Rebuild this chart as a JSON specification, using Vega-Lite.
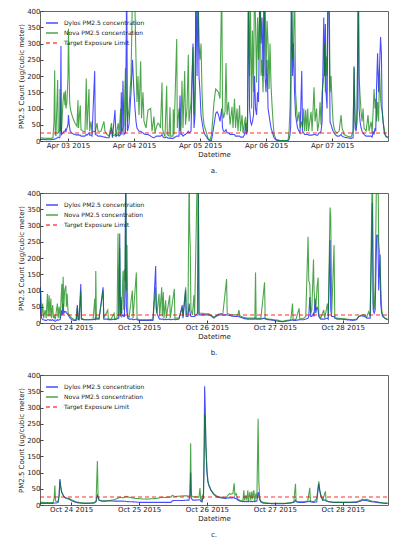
{
"$schema": "https://vega.github.io/schema/vega-lite/v6.json",
"background": "white",
"padding": {"left": 17, "top": 6, "right": 5, "bottom": 2},
"spacing": 13,
"config": {
  "font": "DejaVu Sans",
  "view": {"stroke": "#666", "strokeWidth": 1},
  "axis": {"grid": false, "domain": false, "tickColor": "#444", "tickSize": -3, "labelPadding": 3, "labelFontSize": 7, "titleFontSize": 7, "labelColor": "#222", "titleColor": "#222", "titleFontWeight": "normal", "titlePadding": 2, "labelOverlap": false, "labelBound": false},
  "axisX": {"labelFlush": false},
  "legend": {"orient": "top-left", "offset": 5, "padding": 0, "labelFontSize": 6, "symbolType": "stroke", "symbolSize": 144, "symbolStrokeWidth": 1.5, "rowPadding": -2, "labelOffset": 5, "labelColor": "#222"},
  "title": {"fontSize": 7, "fontWeight": "normal", "orient": "bottom", "offset": 10, "frame": "group", "color": "#222"}
},
"datasets": {
"a": [
{"t":"2015-04-02T13:49","d":5,"n":10},{"t":"2015-04-02T14:55","d":5,"n":9},{"t":"2015-04-02T16:22","d":4,"n":8},{"t":"2015-04-02T17:49","d":4,"n":8},{"t":"2015-04-02T18:33","d":5,"n":10},{"t":"2015-04-02T18:55","d":5,"n":60},{"t":"2015-04-02T19:10","d":6,"n":218},{"t":"2015-04-02T19:23","d":6,"n":20},{"t":"2015-04-02T19:38","d":8,"n":15},{"t":"2015-04-02T20:15","d":10,"n":188},{"t":"2015-04-02T20:28","d":12,"n":25},{"t":"2015-04-02T20:55","d":10,"n":30},{"t":"2015-04-02T21:05","d":12,"n":160},{"t":"2015-04-02T21:16","d":60,"n":30},{"t":"2015-04-02T21:27","d":292,"n":40},{"t":"2015-04-02T21:38","d":20,"n":25},{"t":"2015-04-02T22:11","d":25,"n":120},{"t":"2015-04-02T22:33","d":30,"n":150},{"t":"2015-04-02T22:55","d":30,"n":110},{"t":"2015-04-02T23:05","d":35,"n":155},{"t":"2015-04-02T23:16","d":30,"n":100},{"t":"2015-04-02T23:38","d":40,"n":120},{"t":"2015-04-03T00:00","d":50,"n":200},{"t":"2015-04-03T00:11","d":80,"n":345},{"t":"2015-04-03T00:22","d":60,"n":240},{"t":"2015-04-03T00:37","d":40,"n":120},{"t":"2015-04-03T00:50","d":30,"n":100},{"t":"2015-04-03T01:16","d":25,"n":85},{"t":"2015-04-03T01:49","d":22,"n":70},{"t":"2015-04-03T02:33","d":20,"n":55},{"t":"2015-04-03T03:16","d":18,"n":45},{"t":"2015-04-03T03:38","d":20,"n":125},{"t":"2015-04-03T03:49","d":18,"n":40},{"t":"2015-04-03T04:28","d":18,"n":110},{"t":"2015-04-03T04:44","d":15,"n":35},{"t":"2015-04-03T05:27","d":15,"n":30},{"t":"2015-04-03T06:11","d":15,"n":28},{"t":"2015-04-03T06:39","d":20,"n":192},{"t":"2015-04-03T06:55","d":18,"n":35},{"t":"2015-04-03T07:38","d":25,"n":160},{"t":"2015-04-03T07:53","d":18,"n":30},{"t":"2015-04-03T08:22","d":18,"n":60},{"t":"2015-04-03T08:44","d":15,"n":28},{"t":"2015-04-03T09:43","d":215,"n":30},{"t":"2015-04-03T09:56","d":20,"n":28},{"t":"2015-04-03T10:33","d":18,"n":55},{"t":"2015-04-03T10:55","d":15,"n":30},{"t":"2015-04-03T12:00","d":15,"n":30},{"t":"2015-04-03T13:05","d":12,"n":60},{"t":"2015-04-03T13:27","d":12,"n":30},{"t":"2015-04-03T14:11","d":10,"n":20},{"t":"2015-04-03T14:55","d":10,"n":15},{"t":"2015-04-03T15:49","d":40,"n":55},{"t":"2015-04-03T16:11","d":10,"n":15},{"t":"2015-04-03T17:05","d":95,"n":20},{"t":"2015-04-03T17:27","d":15,"n":15},{"t":"2015-04-03T18:17","d":20,"n":55},{"t":"2015-04-03T18:33","d":15,"n":18},{"t":"2015-04-03T19:10","d":20,"n":100},{"t":"2015-04-03T19:23","d":150,"n":30},{"t":"2015-04-03T19:38","d":20,"n":30},{"t":"2015-04-03T20:00","d":185,"n":40},{"t":"2015-04-03T20:22","d":20,"n":50},{"t":"2015-04-03T20:55","d":25,"n":225},{"t":"2015-04-03T21:21","d":500,"n":100},{"t":"2015-04-03T21:38","d":30,"n":60},{"t":"2015-04-03T22:11","d":50,"n":100},{"t":"2015-04-03T22:55","d":150,"n":200},{"t":"2015-04-03T23:27","d":250,"n":450},{"t":"2015-04-04T00:00","d":150,"n":500},{"t":"2015-04-04T00:22","d":100,"n":400},{"t":"2015-04-04T00:44","d":60,"n":250},{"t":"2015-04-04T01:05","d":40,"n":120},{"t":"2015-04-04T01:27","d":35,"n":200},{"t":"2015-04-04T01:49","d":30,"n":80},{"t":"2015-04-04T02:26","d":30,"n":245},{"t":"2015-04-04T02:44","d":28,"n":70},{"t":"2015-04-04T03:16","d":25,"n":150},{"t":"2015-04-04T03:38","d":22,"n":60},{"t":"2015-04-04T04:22","d":20,"n":40},{"t":"2015-04-04T05:05","d":20,"n":95},{"t":"2015-04-04T06:04","d":15,"n":100},{"t":"2015-04-04T06:33","d":12,"n":30},{"t":"2015-04-04T07:16","d":10,"n":75},{"t":"2015-04-04T07:38","d":12,"n":25},{"t":"2015-04-04T08:11","d":15,"n":45},{"t":"2015-04-04T08:44","d":15,"n":55},{"t":"2015-04-04T09:16","d":15,"n":50},{"t":"2015-04-04T09:38","d":15,"n":40},{"t":"2015-04-04T10:11","d":20,"n":180},{"t":"2015-04-04T10:26","d":15,"n":35},{"t":"2015-04-04T10:55","d":10,"n":20},{"t":"2015-04-04T11:16","d":10,"n":15},{"t":"2015-04-04T11:53","d":12,"n":170},{"t":"2015-04-04T12:07","d":10,"n":20},{"t":"2015-04-04T12:44","d":8,"n":15},{"t":"2015-04-04T13:05","d":10,"n":104},{"t":"2015-04-04T13:21","d":8,"n":15},{"t":"2015-04-04T14:11","d":8,"n":15},{"t":"2015-04-04T14:17","d":8,"n":98},{"t":"2015-04-04T14:33","d":10,"n":20},{"t":"2015-04-04T15:32","d":15,"n":314},{"t":"2015-04-04T15:45","d":15,"n":40},{"t":"2015-04-04T16:22","d":15,"n":100},{"t":"2015-04-04T16:44","d":140,"n":30},{"t":"2015-04-04T17:05","d":20,"n":50},{"t":"2015-04-04T17:27","d":20,"n":185},{"t":"2015-04-04T17:49","d":15,"n":40},{"t":"2015-04-04T18:26","d":20,"n":215},{"t":"2015-04-04T18:44","d":20,"n":50},{"t":"2015-04-04T19:16","d":25,"n":100},{"t":"2015-04-04T19:45","d":30,"n":265},{"t":"2015-04-04T20:00","d":25,"n":60},{"t":"2015-04-04T20:44","d":30,"n":120},{"t":"2015-04-04T21:27","d":300,"n":290},{"t":"2015-04-04T21:49","d":40,"n":80},{"t":"2015-04-04T22:11","d":80,"n":150},{"t":"2015-04-04T22:33","d":500,"n":500},{"t":"2015-04-04T22:55","d":200,"n":400},{"t":"2015-04-04T23:16","d":500,"n":500},{"t":"2015-04-04T23:38","d":200,"n":300},{"t":"2015-04-05T00:00","d":150,"n":250},{"t":"2015-04-05T00:22","d":80,"n":300},{"t":"2015-04-05T00:44","d":60,"n":150},{"t":"2015-04-05T01:05","d":40,"n":80},{"t":"2015-04-05T01:27","d":25,"n":50},{"t":"2015-04-05T02:11","d":15,"n":30},{"t":"2015-04-05T02:55","d":5,"n":8},{"t":"2015-04-05T03:38","d":0,"n":2},{"t":"2015-04-05T04:11","d":2,"n":20},{"t":"2015-04-05T04:33","d":20,"n":60},{"t":"2015-04-05T05:05","d":50,"n":120},{"t":"2015-04-05T05:43","d":85,"n":160},{"t":"2015-04-05T06:11","d":90,"n":155},{"t":"2015-04-05T06:44","d":80,"n":150},{"t":"2015-04-05T07:16","d":60,"n":130},{"t":"2015-04-05T07:53","d":100,"n":500},{"t":"2015-04-05T08:11","d":40,"n":100},{"t":"2015-04-05T08:33","d":30,"n":70},{"t":"2015-04-05T09:05","d":30,"n":90},{"t":"2015-04-05T09:27","d":35,"n":240},{"t":"2015-04-05T09:49","d":25,"n":80},{"t":"2015-04-05T10:22","d":25,"n":120},{"t":"2015-04-05T10:55","d":20,"n":50},{"t":"2015-04-05T11:38","d":20,"n":105},{"t":"2015-04-05T12:00","d":20,"n":40},{"t":"2015-04-05T12:33","d":20,"n":130},{"t":"2015-04-05T12:55","d":15,"n":40},{"t":"2015-04-05T13:27","d":15,"n":100},{"t":"2015-04-05T13:49","d":15,"n":30},{"t":"2015-04-05T14:22","d":15,"n":110},{"t":"2015-04-05T14:44","d":12,"n":30},{"t":"2015-04-05T15:16","d":12,"n":80},{"t":"2015-04-05T15:38","d":12,"n":25},{"t":"2015-04-05T16:15","d":20,"n":60},{"t":"2015-04-05T16:33","d":55,"n":75},{"t":"2015-04-05T16:55","d":20,"n":30},{"t":"2015-04-05T17:16","d":30,"n":70},{"t":"2015-04-05T17:38","d":500,"n":500},{"t":"2015-04-05T18:00","d":100,"n":200},{"t":"2015-04-05T18:22","d":60,"n":400},{"t":"2015-04-05T18:44","d":50,"n":100},{"t":"2015-04-05T19:05","d":60,"n":340},{"t":"2015-04-05T19:27","d":80,"n":150},{"t":"2015-04-05T19:49","d":200,"n":500},{"t":"2015-04-05T20:11","d":100,"n":360},{"t":"2015-04-05T20:33","d":80,"n":180},{"t":"2015-04-05T20:55","d":150,"n":380},{"t":"2015-04-05T21:16","d":120,"n":250},{"t":"2015-04-05T21:49","d":500,"n":500},{"t":"2015-04-05T22:11","d":300,"n":200},{"t":"2015-04-05T22:33","d":380,"n":250},{"t":"2015-04-05T22:55","d":200,"n":150},{"t":"2015-04-05T23:16","d":500,"n":300},{"t":"2015-04-05T23:38","d":200,"n":500},{"t":"2015-04-06T00:00","d":150,"n":200},{"t":"2015-04-06T00:22","d":250,"n":370},{"t":"2015-04-06T00:44","d":100,"n":300},{"t":"2015-04-06T01:05","d":80,"n":160},{"t":"2015-04-06T01:27","d":60,"n":300},{"t":"2015-04-06T01:49","d":40,"n":170},{"t":"2015-04-06T02:11","d":30,"n":110},{"t":"2015-04-06T02:33","d":20,"n":60},{"t":"2015-04-06T02:55","d":10,"n":20},{"t":"2015-04-06T03:38","d":3,"n":5},{"t":"2015-04-06T04:44","d":1,"n":2},{"t":"2015-04-06T06:33","d":1,"n":1},{"t":"2015-04-06T08:00","d":1,"n":2},{"t":"2015-04-06T08:22","d":5,"n":30},{"t":"2015-04-06T08:44","d":20,"n":104},{"t":"2015-04-06T08:59","d":50,"n":200},{"t":"2015-04-06T09:16","d":500,"n":500},{"t":"2015-04-06T09:38","d":200,"n":250},{"t":"2015-04-06T10:00","d":300,"n":300},{"t":"2015-04-06T10:22","d":150,"n":500},{"t":"2015-04-06T10:44","d":80,"n":150},{"t":"2015-04-06T11:05","d":60,"n":100},{"t":"2015-04-06T11:27","d":40,"n":60},{"t":"2015-04-06T12:00","d":30,"n":90},{"t":"2015-04-06T12:22","d":25,"n":40},{"t":"2015-04-06T12:59","d":215,"n":60},{"t":"2015-04-06T13:16","d":30,"n":40},{"t":"2015-04-06T13:43","d":25,"n":100},{"t":"2015-04-06T14:00","d":20,"n":30},{"t":"2015-04-06T14:26","d":20,"n":95},{"t":"2015-04-06T14:44","d":20,"n":30},{"t":"2015-04-06T15:10","d":20,"n":100},{"t":"2015-04-06T15:27","d":18,"n":30},{"t":"2015-04-06T16:22","d":18,"n":90},{"t":"2015-04-06T16:44","d":18,"n":30},{"t":"2015-04-06T17:27","d":20,"n":165},{"t":"2015-04-06T17:49","d":20,"n":60},{"t":"2015-04-06T18:22","d":18,"n":100},{"t":"2015-04-06T18:44","d":18,"n":30},{"t":"2015-04-06T19:16","d":25,"n":60},{"t":"2015-04-06T19:38","d":25,"n":120},{"t":"2015-04-06T20:00","d":30,"n":50},{"t":"2015-04-06T20:22","d":60,"n":150},{"t":"2015-04-06T20:59","d":380,"n":200},{"t":"2015-04-06T21:16","d":200,"n":300},{"t":"2015-04-06T21:34","d":360,"n":150},{"t":"2015-04-06T21:49","d":150,"n":260},{"t":"2015-04-06T22:11","d":100,"n":200},{"t":"2015-04-06T22:33","d":500,"n":500},{"t":"2015-04-06T22:55","d":400,"n":500},{"t":"2015-04-06T23:16","d":60,"n":150},{"t":"2015-04-06T23:38","d":50,"n":200},{"t":"2015-04-07T00:00","d":40,"n":120},{"t":"2015-04-07T00:22","d":30,"n":60},{"t":"2015-04-07T00:44","d":25,"n":40},{"t":"2015-04-07T01:05","d":20,"n":30},{"t":"2015-04-07T01:49","d":15,"n":25},{"t":"2015-04-07T02:33","d":15,"n":30},{"t":"2015-04-07T03:16","d":20,"n":80},{"t":"2015-04-07T03:38","d":15,"n":40},{"t":"2015-04-07T04:22","d":12,"n":20},{"t":"2015-04-07T05:27","d":10,"n":15},{"t":"2015-04-07T06:55","d":8,"n":12},{"t":"2015-04-07T07:38","d":10,"n":30},{"t":"2015-04-07T08:00","d":230,"n":225},{"t":"2015-04-07T08:22","d":40,"n":60},{"t":"2015-04-07T08:44","d":30,"n":40},{"t":"2015-04-07T09:05","d":60,"n":100},{"t":"2015-04-07T09:34","d":500,"n":500},{"t":"2015-04-07T09:49","d":100,"n":200},{"t":"2015-04-07T10:11","d":60,"n":140},{"t":"2015-04-07T10:33","d":40,"n":90},{"t":"2015-04-07T10:55","d":30,"n":60},{"t":"2015-04-07T11:16","d":25,"n":100},{"t":"2015-04-07T11:38","d":20,"n":40},{"t":"2015-04-07T12:22","d":15,"n":30},{"t":"2015-04-07T13:05","d":15,"n":80},{"t":"2015-04-07T13:27","d":15,"n":30},{"t":"2015-04-07T14:11","d":15,"n":60},{"t":"2015-04-07T14:33","d":12,"n":25},{"t":"2015-04-07T14:55","d":30,"n":90},{"t":"2015-04-07T15:16","d":20,"n":160},{"t":"2015-04-07T15:38","d":40,"n":100},{"t":"2015-04-07T15:53","d":30,"n":130},{"t":"2015-04-07T16:11","d":170,"n":60},{"t":"2015-04-07T16:33","d":270,"n":120},{"t":"2015-04-07T16:55","d":150,"n":60},{"t":"2015-04-07T17:16","d":230,"n":220},{"t":"2015-04-07T17:38","d":320,"n":130},{"t":"2015-04-07T17:56","d":270,"n":100},{"t":"2015-04-07T18:11","d":100,"n":95},{"t":"2015-04-07T18:33","d":60,"n":60},{"t":"2015-04-07T18:55","d":30,"n":40},{"t":"2015-04-07T19:16","d":20,"n":20},{"t":"2015-04-07T19:38","d":15,"n":12},{"t":"2015-04-07T20:22","d":12,"n":10}
],
"b": [
{"t":"2015-10-23T13:04","d":110,"n":100},{"t":"2015-10-23T13:18","d":30,"n":95},{"t":"2015-10-23T13:35","d":15,"n":20},{"t":"2015-10-23T13:56","d":10,"n":60},{"t":"2015-10-23T14:18","d":10,"n":15},{"t":"2015-10-23T14:49","d":8,"n":40},{"t":"2015-10-23T15:11","d":8,"n":15},{"t":"2015-10-23T15:38","d":10,"n":90},{"t":"2015-10-23T15:53","d":10,"n":20},{"t":"2015-10-23T16:14","d":10,"n":85},{"t":"2015-10-23T16:29","d":8,"n":20},{"t":"2015-10-23T16:50","d":10,"n":75},{"t":"2015-10-23T17:03","d":8,"n":15},{"t":"2015-10-23T17:28","d":10,"n":55},{"t":"2015-10-23T17:45","d":8,"n":15},{"t":"2015-10-23T18:00","d":8,"n":25},{"t":"2015-10-23T18:21","d":5,"n":10},{"t":"2015-10-23T19:10","d":10,"n":60},{"t":"2015-10-23T19:25","d":8,"n":15},{"t":"2015-10-23T19:46","d":10,"n":50},{"t":"2015-10-23T20:07","d":10,"n":15},{"t":"2015-10-23T20:43","d":40,"n":120},{"t":"2015-10-23T20:56","d":25,"n":40},{"t":"2015-10-23T21:11","d":60,"n":142},{"t":"2015-10-23T21:25","d":30,"n":50},{"t":"2015-10-23T21:43","d":35,"n":100},{"t":"2015-10-23T22:08","d":35,"n":115},{"t":"2015-10-23T22:20","d":30,"n":50},{"t":"2015-10-23T22:35","d":30,"n":90},{"t":"2015-10-23T22:56","d":25,"n":30},{"t":"2015-10-23T23:39","d":15,"n":20},{"t":"2015-10-24T00:21","d":10,"n":15},{"t":"2015-10-24T01:04","d":8,"n":10},{"t":"2015-10-24T01:46","d":8,"n":10},{"t":"2015-10-24T02:13","d":55,"n":50},{"t":"2015-10-24T02:28","d":10,"n":12},{"t":"2015-10-24T02:49","d":10,"n":10},{"t":"2015-10-24T03:25","d":120,"n":100},{"t":"2015-10-24T03:38","d":12,"n":15},{"t":"2015-10-24T04:35","d":10,"n":10},{"t":"2015-10-24T06:21","d":10,"n":10},{"t":"2015-10-24T07:46","d":10,"n":12},{"t":"2015-10-24T08:22","d":12,"n":75},{"t":"2015-10-24T08:35","d":10,"n":12},{"t":"2015-10-24T08:43","d":15,"n":160},{"t":"2015-10-24T08:56","d":12,"n":15},{"t":"2015-10-24T09:53","d":12,"n":15},{"t":"2015-10-24T11:18","d":110,"n":100},{"t":"2015-10-24T11:32","d":12,"n":15},{"t":"2015-10-24T12:57","d":12,"n":40},{"t":"2015-10-24T13:10","d":10,"n":12},{"t":"2015-10-24T14:07","d":10,"n":12},{"t":"2015-10-24T15:11","d":12,"n":30},{"t":"2015-10-24T15:25","d":10,"n":12},{"t":"2015-10-24T16:14","d":12,"n":15},{"t":"2015-10-24T16:35","d":15,"n":275},{"t":"2015-10-24T16:50","d":15,"n":20},{"t":"2015-10-24T17:11","d":275,"n":230},{"t":"2015-10-24T17:24","d":20,"n":25},{"t":"2015-10-24T17:39","d":80,"n":70},{"t":"2015-10-24T17:54","d":20,"n":30},{"t":"2015-10-24T18:21","d":25,"n":160},{"t":"2015-10-24T18:36","d":20,"n":40},{"t":"2015-10-24T18:49","d":20,"n":165},{"t":"2015-10-24T19:04","d":100,"n":130},{"t":"2015-10-24T19:18","d":500,"n":500},{"t":"2015-10-24T19:31","d":50,"n":100},{"t":"2015-10-24T19:46","d":30,"n":240},{"t":"2015-10-24T20:01","d":15,"n":25},{"t":"2015-10-24T20:28","d":12,"n":15},{"t":"2015-10-24T21:38","d":12,"n":100},{"t":"2015-10-24T21:53","d":10,"n":15},{"t":"2015-10-24T23:03","d":12,"n":155},{"t":"2015-10-24T23:18","d":10,"n":15},{"t":"2015-10-25T00:00","d":8,"n":10},{"t":"2015-10-25T01:46","d":8,"n":10},{"t":"2015-10-25T03:32","d":8,"n":10},{"t":"2015-10-25T04:56","d":8,"n":12},{"t":"2015-10-25T05:53","d":175,"n":110},{"t":"2015-10-25T06:06","d":50,"n":40},{"t":"2015-10-25T06:21","d":30,"n":30},{"t":"2015-10-25T07:04","d":15,"n":90},{"t":"2015-10-25T07:18","d":12,"n":20},{"t":"2015-10-25T08:01","d":12,"n":110},{"t":"2015-10-25T08:13","d":12,"n":20},{"t":"2015-10-25T08:35","d":12,"n":95},{"t":"2015-10-25T08:49","d":10,"n":15},{"t":"2015-10-25T09:25","d":12,"n":70},{"t":"2015-10-25T09:38","d":10,"n":15},{"t":"2015-10-25T10:50","d":12,"n":85},{"t":"2015-10-25T11:03","d":10,"n":15},{"t":"2015-10-25T12:28","d":12,"n":105},{"t":"2015-10-25T12:42","d":10,"n":15},{"t":"2015-10-25T14:07","d":12,"n":15},{"t":"2015-10-25T15:17","d":55,"n":45},{"t":"2015-10-25T15:32","d":15,"n":20},{"t":"2015-10-25T16:29","d":100,"n":110},{"t":"2015-10-25T16:41","d":20,"n":25},{"t":"2015-10-25T17:18","d":20,"n":30},{"t":"2015-10-25T17:45","d":60,"n":500},{"t":"2015-10-25T17:53","d":40,"n":295},{"t":"2015-10-25T18:06","d":30,"n":235},{"t":"2015-10-25T18:21","d":20,"n":40},{"t":"2015-10-25T18:53","d":20,"n":25},{"t":"2015-10-25T19:25","d":20,"n":85},{"t":"2015-10-25T19:39","d":20,"n":25},{"t":"2015-10-25T20:39","d":30,"n":500},{"t":"2015-10-25T20:56","d":500,"n":500},{"t":"2015-10-25T21:11","d":25,"n":30},{"t":"2015-10-25T22:14","d":25,"n":30},{"t":"2015-10-25T23:39","d":25,"n":28},{"t":"2015-10-26T00:42","d":25,"n":28},{"t":"2015-10-26T01:46","d":20,"n":22},{"t":"2015-10-26T02:28","d":15,"n":18},{"t":"2015-10-26T03:11","d":20,"n":22},{"t":"2015-10-26T04:14","d":25,"n":28},{"t":"2015-10-26T05:39","d":25,"n":30},{"t":"2015-10-26T06:57","d":25,"n":135},{"t":"2015-10-26T07:10","d":25,"n":30},{"t":"2015-10-26T08:28","d":22,"n":25},{"t":"2015-10-26T09:53","d":20,"n":25},{"t":"2015-10-26T10:56","d":20,"n":25},{"t":"2015-10-26T11:18","d":20,"n":40},{"t":"2015-10-26T11:39","d":18,"n":22},{"t":"2015-10-26T12:42","d":15,"n":18},{"t":"2015-10-26T14:07","d":12,"n":15},{"t":"2015-10-26T15:32","d":12,"n":15},{"t":"2015-10-26T16:56","d":12,"n":15},{"t":"2015-10-26T17:11","d":15,"n":155},{"t":"2015-10-26T17:24","d":12,"n":15},{"t":"2015-10-26T19:04","d":12,"n":14},{"t":"2015-10-26T20:22","d":15,"n":125},{"t":"2015-10-26T20:35","d":12,"n":14},{"t":"2015-10-26T21:53","d":10,"n":12},{"t":"2015-10-26T23:39","d":8,"n":10},{"t":"2015-10-27T01:25","d":5,"n":8},{"t":"2015-10-27T02:49","d":4,"n":5},{"t":"2015-10-27T04:14","d":6,"n":8},{"t":"2015-10-27T05:39","d":8,"n":10},{"t":"2015-10-27T06:15","d":10,"n":60},{"t":"2015-10-27T06:28","d":8,"n":12},{"t":"2015-10-27T07:25","d":8,"n":10},{"t":"2015-10-27T08:35","d":10,"n":45},{"t":"2015-10-27T08:49","d":10,"n":12},{"t":"2015-10-27T10:14","d":10,"n":15},{"t":"2015-10-27T10:56","d":12,"n":20},{"t":"2015-10-27T11:45","d":15,"n":265},{"t":"2015-10-27T12:00","d":20,"n":130},{"t":"2015-10-27T12:21","d":80,"n":120},{"t":"2015-10-27T12:42","d":20,"n":30},{"t":"2015-10-27T13:04","d":20,"n":40},{"t":"2015-10-27T13:40","d":30,"n":195},{"t":"2015-10-27T13:52","d":20,"n":100},{"t":"2015-10-27T14:13","d":75,"n":60},{"t":"2015-10-27T14:28","d":30,"n":40},{"t":"2015-10-27T14:56","d":50,"n":110},{"t":"2015-10-27T15:17","d":40,"n":140},{"t":"2015-10-27T15:32","d":20,"n":30},{"t":"2015-10-27T15:53","d":15,"n":20},{"t":"2015-10-27T16:14","d":12,"n":15},{"t":"2015-10-27T17:17","d":12,"n":40},{"t":"2015-10-27T17:39","d":12,"n":15},{"t":"2015-10-27T18:36","d":15,"n":60},{"t":"2015-10-27T18:53","d":12,"n":20},{"t":"2015-10-27T19:31","d":255,"n":355},{"t":"2015-10-27T19:46","d":40,"n":325},{"t":"2015-10-27T20:07","d":20,"n":30},{"t":"2015-10-27T20:56","d":20,"n":240},{"t":"2015-10-27T21:11","d":15,"n":20},{"t":"2015-10-27T21:53","d":12,"n":15},{"t":"2015-10-27T23:17","d":12,"n":14},{"t":"2015-10-28T01:25","d":10,"n":12},{"t":"2015-10-28T03:32","d":8,"n":10},{"t":"2015-10-28T04:56","d":10,"n":12},{"t":"2015-10-28T05:39","d":20,"n":20},{"t":"2015-10-28T06:42","d":22,"n":25},{"t":"2015-10-28T07:46","d":20,"n":25},{"t":"2015-10-28T08:28","d":15,"n":18},{"t":"2015-10-28T09:11","d":15,"n":35},{"t":"2015-10-28T09:42","d":15,"n":20},{"t":"2015-10-28T10:29","d":370,"n":500},{"t":"2015-10-28T10:46","d":40,"n":60},{"t":"2015-10-28T11:07","d":30,"n":40},{"t":"2015-10-28T11:28","d":40,"n":120},{"t":"2015-10-28T12:00","d":270,"n":500},{"t":"2015-10-28T12:28","d":270,"n":500},{"t":"2015-10-28T12:42","d":100,"n":250},{"t":"2015-10-28T13:10","d":210,"n":200},{"t":"2015-10-28T13:25","d":60,"n":120},{"t":"2015-10-28T13:46","d":30,"n":40},{"t":"2015-10-28T14:07","d":20,"n":25},{"t":"2015-10-28T14:49","d":15,"n":15},{"t":"2015-10-28T15:53","d":10,"n":12}
],
"c": [
{"t":"2015-10-23T13:04","d":5,"n":8},{"t":"2015-10-23T14:28","d":5,"n":8},{"t":"2015-10-23T16:14","d":5,"n":7},{"t":"2015-10-23T17:39","d":5,"n":8},{"t":"2015-10-23T18:00","d":6,"n":20},{"t":"2015-10-23T18:15","d":6,"n":60},{"t":"2015-10-23T18:28","d":6,"n":15},{"t":"2015-10-23T18:42","d":6,"n":10},{"t":"2015-10-23T19:25","d":8,"n":12},{"t":"2015-10-23T19:46","d":30,"n":30},{"t":"2015-10-23T20:01","d":80,"n":75},{"t":"2015-10-23T20:17","d":60,"n":55},{"t":"2015-10-23T20:39","d":40,"n":40},{"t":"2015-10-23T21:11","d":30,"n":30},{"t":"2015-10-23T21:32","d":25,"n":25},{"t":"2015-10-23T22:14","d":20,"n":22},{"t":"2015-10-23T23:18","d":18,"n":20},{"t":"2015-10-24T00:21","d":12,"n":15},{"t":"2015-10-24T01:46","d":8,"n":10},{"t":"2015-10-24T02:49","d":6,"n":8},{"t":"2015-10-24T04:35","d":5,"n":6},{"t":"2015-10-24T06:21","d":5,"n":6},{"t":"2015-10-24T08:07","d":6,"n":7},{"t":"2015-10-24T08:49","d":10,"n":12},{"t":"2015-10-24T09:17","d":30,"n":135},{"t":"2015-10-24T09:32","d":25,"n":25},{"t":"2015-10-24T09:53","d":15,"n":15},{"t":"2015-10-24T10:56","d":12,"n":12},{"t":"2015-10-24T12:21","d":12,"n":13},{"t":"2015-10-24T13:46","d":13,"n":14},{"t":"2015-10-24T15:11","d":12,"n":16},{"t":"2015-10-24T16:14","d":12,"n":20},{"t":"2015-10-24T17:18","d":12,"n":24},{"t":"2015-10-24T18:21","d":12,"n":22},{"t":"2015-10-24T19:25","d":11,"n":27},{"t":"2015-10-24T20:28","d":10,"n":24},{"t":"2015-10-24T21:32","d":10,"n":22},{"t":"2015-10-24T22:56","d":9,"n":20},{"t":"2015-10-25T00:42","d":8,"n":19},{"t":"2015-10-25T02:28","d":8,"n":18},{"t":"2015-10-25T04:14","d":8,"n":19},{"t":"2015-10-25T06:00","d":8,"n":20},{"t":"2015-10-25T07:04","d":8,"n":22},{"t":"2015-10-25T08:07","d":8,"n":24},{"t":"2015-10-25T09:11","d":8,"n":23},{"t":"2015-10-25T10:35","d":8,"n":25},{"t":"2015-10-25T11:18","d":8,"n":24},{"t":"2015-10-25T11:45","d":13,"n":30},{"t":"2015-10-25T12:42","d":14,"n":26},{"t":"2015-10-25T14:07","d":14,"n":27},{"t":"2015-10-25T15:32","d":14,"n":28},{"t":"2015-10-25T16:56","d":15,"n":28},{"t":"2015-10-25T17:39","d":15,"n":27},{"t":"2015-10-25T18:00","d":30,"n":30},{"t":"2015-10-25T18:15","d":100,"n":190},{"t":"2015-10-25T18:28","d":20,"n":30},{"t":"2015-10-25T19:04","d":15,"n":25},{"t":"2015-10-25T20:07","d":15,"n":25},{"t":"2015-10-25T21:11","d":16,"n":24},{"t":"2015-10-25T21:32","d":16,"n":52},{"t":"2015-10-25T21:47","d":12,"n":20},{"t":"2015-10-25T22:14","d":10,"n":12},{"t":"2015-10-25T22:29","d":20,"n":32},{"t":"2015-10-25T22:46","d":20,"n":25},{"t":"2015-10-25T23:03","d":200,"n":150},{"t":"2015-10-25T23:11","d":365,"n":280},{"t":"2015-10-25T23:24","d":300,"n":260},{"t":"2015-10-25T23:39","d":180,"n":180},{"t":"2015-10-26T00:00","d":100,"n":110},{"t":"2015-10-26T00:21","d":70,"n":75},{"t":"2015-10-26T00:42","d":60,"n":62},{"t":"2015-10-26T01:25","d":45,"n":47},{"t":"2015-10-26T02:28","d":32,"n":34},{"t":"2015-10-26T03:32","d":25,"n":27},{"t":"2015-10-26T04:56","d":22,"n":24},{"t":"2015-10-26T06:36","d":20,"n":22},{"t":"2015-10-26T07:25","d":22,"n":30},{"t":"2015-10-26T07:56","d":22,"n":35},{"t":"2015-10-26T08:28","d":22,"n":33},{"t":"2015-10-26T09:11","d":22,"n":36},{"t":"2015-10-26T09:38","d":25,"n":67},{"t":"2015-10-26T09:53","d":20,"n":30},{"t":"2015-10-26T10:20","d":20,"n":35},{"t":"2015-10-26T10:56","d":15,"n":18},{"t":"2015-10-26T11:39","d":12,"n":14},{"t":"2015-10-26T12:42","d":10,"n":12},{"t":"2015-10-26T13:04","d":12,"n":45},{"t":"2015-10-26T13:18","d":10,"n":15},{"t":"2015-10-26T13:46","d":12,"n":30},{"t":"2015-10-26T14:07","d":10,"n":15},{"t":"2015-10-26T14:28","d":12,"n":45},{"t":"2015-10-26T14:43","d":10,"n":12},{"t":"2015-10-26T15:11","d":12,"n":40},{"t":"2015-10-26T15:32","d":10,"n":15},{"t":"2015-10-26T15:53","d":12,"n":42},{"t":"2015-10-26T16:08","d":10,"n":18},{"t":"2015-10-26T16:35","d":12,"n":45},{"t":"2015-10-26T16:56","d":10,"n":12},{"t":"2015-10-26T17:18","d":12,"n":35},{"t":"2015-10-26T17:39","d":12,"n":20},{"t":"2015-10-26T18:06","d":40,"n":265},{"t":"2015-10-26T18:21","d":30,"n":70},{"t":"2015-10-26T18:42","d":15,"n":20},{"t":"2015-10-26T19:04","d":10,"n":12},{"t":"2015-10-26T19:46","d":6,"n":8},{"t":"2015-10-26T21:11","d":5,"n":6},{"t":"2015-10-26T23:39","d":4,"n":5},{"t":"2015-10-27T03:11","d":4,"n":5},{"t":"2015-10-27T05:39","d":6,"n":7},{"t":"2015-10-27T06:42","d":8,"n":10},{"t":"2015-10-27T07:18","d":15,"n":65},{"t":"2015-10-27T07:31","d":10,"n":12},{"t":"2015-10-27T08:28","d":8,"n":10},{"t":"2015-10-27T10:14","d":8,"n":10},{"t":"2015-10-27T11:39","d":10,"n":12},{"t":"2015-10-27T12:21","d":12,"n":53},{"t":"2015-10-27T12:36","d":10,"n":12},{"t":"2015-10-27T13:46","d":8,"n":10},{"t":"2015-10-27T14:49","d":10,"n":20},{"t":"2015-10-27T15:32","d":65,"n":73},{"t":"2015-10-27T15:53","d":45,"n":45},{"t":"2015-10-27T16:14","d":30,"n":30},{"t":"2015-10-27T16:56","d":15,"n":15},{"t":"2015-10-27T17:53","d":15,"n":42},{"t":"2015-10-27T18:06","d":12,"n":14},{"t":"2015-10-27T19:04","d":10,"n":10},{"t":"2015-10-27T20:49","d":8,"n":8},{"t":"2015-10-27T23:17","d":8,"n":8},{"t":"2015-10-28T02:07","d":8,"n":8},{"t":"2015-10-28T04:56","d":8,"n":10},{"t":"2015-10-28T06:21","d":12,"n":15},{"t":"2015-10-28T07:04","d":15,"n":18},{"t":"2015-10-28T07:46","d":14,"n":15},{"t":"2015-10-28T08:28","d":14,"n":18},{"t":"2015-10-28T09:11","d":12,"n":15},{"t":"2015-10-28T10:14","d":10,"n":12},{"t":"2015-10-28T12:00","d":8,"n":10},{"t":"2015-10-28T13:46","d":6,"n":7},{"t":"2015-10-28T14:49","d":5,"n":6},{"t":"2015-10-28T15:53","d":5,"n":6}
],
"la": [{"t":"2015-04-02T13:50","key":"t","value":25},{"t":"2015-04-07T20:20","key":"t","value":25}],
"lb": [{"t":"2015-10-23T13:00","key":"t","value":25},{"t":"2015-10-28T16:00","key":"t","value":25}]
},
"vconcat": [
{
 "width": 348, "height": 130, "title": "a.",
 "encoding": {
  "x": {"field": "t", "type": "temporal", "title": "Datetime", "scale": {"domain": [{"year": 2015, "month": 4, "date": 2, "hours": 13, "minutes": 50}, {"year": 2015, "month": 4, "date": 7, "hours": 20, "minutes": 20}]}, "axis": {"format": "%b %d %Y", "tickCount": {"interval": "day", "step": 1}}},
  "y": {"field": "value", "type": "quantitative", "title": "PM2.5 Count (ug/cubic meter)", "scale": {"domain": [0, 400]}, "axis": {"values": [0, 50, 100, 150, 200, 250, 300, 350, 400]}},
  "color": {"field": "key", "type": "nominal", "scale": {"domain": ["d", "n", "t"], "range": ["#0000ff", "#008000", "#ff0000"]}, "legend": {"title": null, "labelExpr": "datum.value == 'd' ? 'Dylos PM2.5 concentration' : datum.value == 'n' ? 'Nova PM2.5 concentration' : 'Target Exposure Limit'"}},
  "strokeDash": {"field": "key", "type": "nominal", "scale": {"domain": ["d", "n", "t"], "range": [[1, 0], [1, 0], [4, 3]]}, "legend": {"title": null, "labelExpr": "datum.value == 'd' ? 'Dylos PM2.5 concentration' : datum.value == 'n' ? 'Nova PM2.5 concentration' : 'Target Exposure Limit'"}}
 },
 "layer": [
  {"data": {"name": "a"}, "transform": [{"fold": ["d", "n"]}],
   "mark": {"type": "line", "strokeWidth": 1.1, "opacity": 0.7, "clip": true}},
  {"data": {"name": "la"},
   "mark": {"type": "line", "strokeWidth": 1.5, "opacity": 0.55, "clip": true}}
 ]
},
{
 "width": 348, "height": 130, "title": "b.",
 "encoding": {
  "x": {"field": "t", "type": "temporal", "title": "Datetime", "scale": {"domain": [{"year": 2015, "month": 10, "date": 23, "hours": 13, "minutes": 0}, {"year": 2015, "month": 10, "date": 28, "hours": 16, "minutes": 0}]}, "axis": {"format": "%b %d %Y", "tickCount": {"interval": "day", "step": 1}}},
  "y": {"field": "value", "type": "quantitative", "title": "PM2.5 Count (ug/cubic meter)", "scale": {"domain": [0, 400]}, "axis": {"values": [0, 50, 100, 150, 200, 250, 300, 350, 400]}},
  "color": {"field": "key", "type": "nominal", "scale": {"domain": ["d", "n", "t"], "range": ["#0000ff", "#008000", "#ff0000"]}, "legend": {"title": null, "labelExpr": "datum.value == 'd' ? 'Dylos PM2.5 concentration' : datum.value == 'n' ? 'Nova PM2.5 concentration' : 'Target Exposure Limit'"}},
  "strokeDash": {"field": "key", "type": "nominal", "scale": {"domain": ["d", "n", "t"], "range": [[1, 0], [1, 0], [4, 3]]}, "legend": {"title": null, "labelExpr": "datum.value == 'd' ? 'Dylos PM2.5 concentration' : datum.value == 'n' ? 'Nova PM2.5 concentration' : 'Target Exposure Limit'"}}
 },
 "layer": [
  {"data": {"name": "b"}, "transform": [{"fold": ["d", "n"]}],
   "mark": {"type": "line", "strokeWidth": 1.1, "opacity": 0.7, "clip": true}},
  {"data": {"name": "lb"},
   "mark": {"type": "line", "strokeWidth": 1.5, "opacity": 0.55, "clip": true}}
 ]
},
{
 "width": 348, "height": 130, "title": "c.",
 "encoding": {
  "x": {"field": "t", "type": "temporal", "title": "Datetime", "scale": {"domain": [{"year": 2015, "month": 10, "date": 23, "hours": 13, "minutes": 0}, {"year": 2015, "month": 10, "date": 28, "hours": 16, "minutes": 0}]}, "axis": {"format": "%b %d %Y", "tickCount": {"interval": "day", "step": 1}}},
  "y": {"field": "value", "type": "quantitative", "title": "PM2.5 Count (ug/cubic meter)", "scale": {"domain": [0, 400]}, "axis": {"values": [0, 50, 100, 150, 200, 250, 300, 350, 400]}},
  "color": {"field": "key", "type": "nominal", "scale": {"domain": ["d", "n", "t"], "range": ["#0000ff", "#008000", "#ff0000"]}, "legend": {"title": null, "labelExpr": "datum.value == 'd' ? 'Dylos PM2.5 concentration' : datum.value == 'n' ? 'Nova PM2.5 concentration' : 'Target Exposure Limit'"}},
  "strokeDash": {"field": "key", "type": "nominal", "scale": {"domain": ["d", "n", "t"], "range": [[1, 0], [1, 0], [4, 3]]}, "legend": {"title": null, "labelExpr": "datum.value == 'd' ? 'Dylos PM2.5 concentration' : datum.value == 'n' ? 'Nova PM2.5 concentration' : 'Target Exposure Limit'"}}
 },
 "layer": [
  {"data": {"name": "c"}, "transform": [{"fold": ["d", "n"]}],
   "mark": {"type": "line", "strokeWidth": 1.1, "opacity": 0.7, "clip": true}},
  {"data": {"name": "lb"},
   "mark": {"type": "line", "strokeWidth": 1.5, "opacity": 0.55, "clip": true}}
 ]
}
],
"resolve": {"scale": {"x": "independent", "color": "independent", "strokeDash": "independent"}, "legend": {"color": "independent", "strokeDash": "independent"}}
}
